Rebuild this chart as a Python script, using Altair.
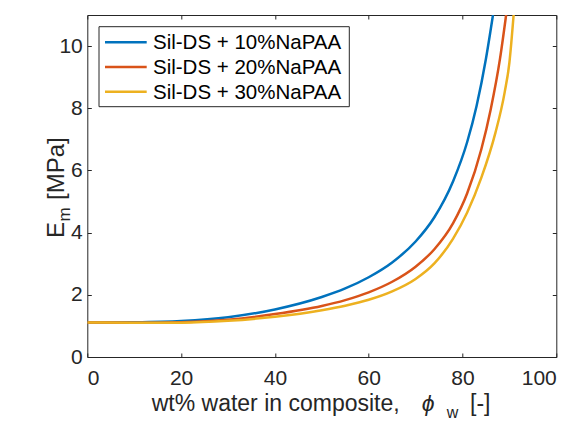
import altair as alt
import pandas as pd

# ---- data ----
series_names = ["Sil-DS + 10%NaPAA", "Sil-DS + 20%NaPAA", "Sil-DS + 30%NaPAA"]
colors = ["#0072BD", "#D95319", "#EDB120"]

phi_10 = [0, 10, 20, 30, 40, 50, 55, 60, 65, 70, 74, 78, 81, 83, 85, 86.5]
E_10 = [1.11, 1.12, 1.16, 1.28, 1.53, 1.93, 2.205, 2.565, 3.04, 3.715, 4.495, 5.655, 6.915, 8.075, 9.595, 11.0]

phi_20 = [0, 10, 20, 30, 40, 50, 55, 60, 65, 70, 74, 78, 81, 84, 86, 88, 89.3]
E_20 = [1.11, 1.10, 1.12, 1.20, 1.38, 1.64, 1.83, 2.08, 2.42, 2.905, 3.465, 4.305, 5.265, 6.675, 7.955, 9.595, 11.0]

phi_30 = [0, 10, 20, 30, 40, 50, 55, 60, 65, 70, 74, 78, 81, 84, 87, 89, 90, 90.9]
E_30 = [1.11, 1.10, 1.105, 1.165, 1.295, 1.505, 1.65, 1.84, 2.11, 2.51, 3.01, 3.81, 4.65, 5.76, 7.2, 8.52, 9.47, 11.0]

x_ticks = [0, 20, 40, 60, 80, 100]
y_ticks = [0, 2, 4, 6, 8, 10]

rows = []
for name, xs, ys in zip(series_names, [phi_10, phi_20, phi_30], [E_10, E_20, E_30]):
    for i, (a, b) in enumerate(zip(xs, ys)):
        rows.append({"series": name, "phi": a, "E": b, "order": i})
df = pd.DataFrame(rows)

legend_df = pd.DataFrame({"series": series_names, "idx": [0, 1, 2]})
one = pd.DataFrame({"k": [0]})

FONT = "Liberation Sans"
AX = "#262626"
W, H = 469, 342

xscale = alt.Scale(domain=[0, 100], nice=False, zero=False)
yscale = alt.Scale(domain=[0, 11], nice=False, zero=False)
cscale = alt.Scale(domain=series_names, range=colors)

common_axis = dict(tickSize=4, offset=-4, domain=False, grid=False, tickColor=AX,
                   labelColor=AX, labelFont=FONT, labelFontSize=21, title=None, tickWidth=1)

lines = alt.Chart(df).mark_line(clip=True, interpolate="monotone", strokeWidth=2.5).encode(
    x=alt.X("phi:Q", scale=xscale, axis=alt.Axis(values=x_ticks, orient="bottom", labelPadding=10, **common_axis)),
    y=alt.Y("E:Q", scale=yscale, axis=alt.Axis(values=y_ticks, orient="left", labelPadding=5, **common_axis)),
    color=alt.Color("series:N", scale=cscale, legend=None),
    order="order:Q",
)

frame = alt.Chart(df).mark_point(opacity=0).encode(
    x=alt.X("phi:Q", scale=xscale, axis=alt.Axis(values=x_ticks, orient="top", labels=False, **common_axis)),
    y=alt.Y("E:Q", scale=yscale, axis=alt.Axis(values=y_ticks, orient="right", labels=False, **common_axis)),
)

legend_box = alt.Chart(one).mark_rect(fill="white", stroke=AX, strokeWidth=1).encode(
    x=alt.value(11.7), x2=alt.value(262), y=alt.value(11.7), y2=alt.value(91.7)
)
legend_lines = alt.Chart(legend_df).transform_calculate(py="27.3 + 24.7*datum.idx").mark_rule(strokeWidth=2.5).encode(
    x=alt.value(17.7), x2=alt.value(59.4),
    y=alt.Y("py:Q", scale=None, axis=None),
    color=alt.Color("series:N", scale=cscale, legend=None),
)
legend_text = alt.Chart(legend_df).transform_calculate(py="27.3 + 24.7*datum.idx").mark_text(
    align="left", baseline="middle", font=FONT, fontSize=20.5, color="black", dy=1
).encode(
    x=alt.value(65.7), y=alt.Y("py:Q", scale=None, axis=None), text="series:N"
)

# x axis title pieces
xt_main = alt.Chart(one).mark_text(text="wt% water in composite,", align="left", baseline="alphabetic",
                                   font=FONT, fontSize=23, color=AX).encode(x=alt.value(64.4), y=alt.value(395.5))
xt_phi = alt.Chart(one).mark_text(text="ϕ", align="left", baseline="alphabetic", font=FONT, fontSize=23,
                                  fontStyle="italic", color=AX).encode(x=alt.value(334.4), y=alt.value(395.5))
xt_sub = alt.Chart(one).mark_text(text="w", align="left", baseline="alphabetic", font=FONT, fontSize=16,
                                  color=AX).encode(x=alt.value(359.4), y=alt.value(403))
xt_end = alt.Chart(one).mark_text(text="[-]", align="left", baseline="alphabetic", font=FONT, fontSize=23,
                                  color=AX).encode(x=alt.value(382.7), y=alt.value(395.5))

# y axis title pieces (rotated)
yb = -23
yt_E = alt.Chart(one).mark_text(text="E", align="left", baseline="alphabetic", font=FONT, fontSize=24,
                                angle=270, color=AX).encode(x=alt.value(yb), y=alt.value(223))
yt_m = alt.Chart(one).mark_text(text="m", align="left", baseline="alphabetic", font=FONT, fontSize=17,
                                angle=270, color=AX).encode(x=alt.value(yb + 6), y=alt.value(206.5))
yt_end = alt.Chart(one).mark_text(text="[MPa]", align="left", baseline="alphabetic", font=FONT, fontSize=24,
                                  angle=270, color=AX).encode(x=alt.value(yb), y=alt.value(185))

chart = alt.layer(
    lines, frame, legend_box, legend_lines, legend_text,
    xt_main, xt_phi, xt_sub, xt_end, yt_E, yt_m, yt_end
).resolve_axis(x="independent", y="independent").properties(
    width=W, height=H,
    autosize=alt.AutoSizeParams(type="none"),
    padding={"left": 79.3, "top": 7, "right": 17.7, "bottom": 63},
    background="white",
).configure_view(stroke=AX, strokeWidth=1)

chart.save("out.html", embed_options={"renderer": "svg", "actions": False})
